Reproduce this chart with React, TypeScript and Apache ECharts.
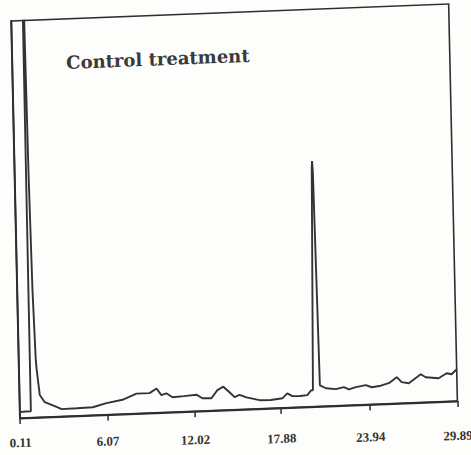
import React, { useEffect, useRef } from "react";
import * as echarts from "echarts";

// Retention times (min) and detector response (% of full scale)
const times = [
  0.11, 0.5, 0.86, 0.88, 0.92, 0.96, 0.99, 1.06, 1.15, 1.27, 1.32, 1.49, 1.82, 2.49, 2.96,
  4.0, 5.07, 6.02, 7.11, 8.07, 8.96, 9.44, 9.76, 10.1, 10.52, 11.3, 12.14, 12.55, 13.16,
  13.58, 13.99, 14.4, 14.74, 15.08, 15.55, 16.43, 17.2, 17.99, 18.33, 18.67, 19.2, 19.69,
  19.96, 20.08, 20.33, 20.36, 20.4, 20.56, 20.97, 21.64, 22.19, 22.53, 23.0, 23.69, 24.09,
  24.7, 25.25, 25.8, 26.13, 26.61, 27.44, 27.77, 28.65, 29.2, 29.54, 29.89,
];
const response = [
  1.5, 1.6, 1.6, 1.7, 140, 140, 100, 60, 32, 14.4, 11.9, 5.6, 3.75, 2.65, 1.84,
  1.9, 2.0, 2.9, 3.6, 5.0, 5.0, 6.1, 4.4, 4.8, 3.75, 3.9, 4.15, 3.2, 3.1,
  5.1, 5.9, 4.45, 3.15, 3.7, 3.0, 2.15, 2.1, 2.4, 3.6, 2.85, 2.8, 2.95,
  4.15, 4.1, 60, 61.8, 59, 5.3, 4.5, 4.17, 4.6, 4.0, 4.5, 4.9, 4.3,
  4.6, 5.15, 6.6, 5.3, 4.95, 7.1, 6.3, 5.9, 7.1, 6.8, 8.0,
];
const tickLabels = ["0.11", "6.07", "12.02", "17.88", "23.94", "29.89"];
const tickValues = tickLabels.map(Number);
const titleText = "Control treatment";

export default function App() {
  const ref = useRef<HTMLDivElement>(null);

  useEffect(() => {
    if (!ref.current) return;
    const chart = echarts.init(ref.current, null, { renderer: "svg" });
    const data = times.map((t, i) => [t, response[i]]);
    const ink = "#2e2e2e";
    const labelFont = {
      fontFamily: "Liberation Serif",
      fontWeight: "bold" as const,
      fontSize: 13,
      color: "#333",
    };
    const rich: Record<string, object> = {};
    tickLabels.forEach((_, i) => {
      rich["l" + i] = { ...labelFont, padding: [i * 2, 0, 0, 0] };
    });
    chart.setOption({
      animation: false,
      backgroundColor: "transparent",
      title: {
        text: titleText,
        left: 70,
        top: 47,
        padding: 0,
        textStyle: {
          fontFamily: "DejaVu Serif",
          fontWeight: "bold",
          fontSize: 18,
          color: "#3a3a3a",
        },
      },
      grid: {
        left: 16,
        right: 16,
        top: 12.5,
        bottom: 45.5,
        show: true,
        borderColor: ink,
        borderWidth: 1.6,
      },
      xAxis: {
        type: "value",
        min: 0.11,
        max: 29.89,
        splitLine: { show: false },
        axisLine: { show: true, lineStyle: { color: ink, width: 2 } },
        axisTick: {
          show: true,
          customValues: tickValues,
          length: 6,
          lineStyle: { color: ink, width: 1.5 },
        },
        axisLabel: {
          customValues: tickValues,
          margin: 18,
          ...labelFont,
          rich,
          formatter: (v: number) => {
            const i = tickValues.indexOf(v);
            return i >= 0 ? "{l" + i + "|" + tickLabels[i] + "}" : v.toFixed(2);
          },
        },
      },
      yAxis: {
        type: "value",
        min: 0,
        max: 100,
        splitLine: { show: false },
        axisLine: { show: true, lineStyle: { color: ink, width: 2 } },
        axisTick: { show: false },
        axisLabel: { show: false },
      },
      series: [
        {
          type: "line",
          data,
          showSymbol: false,
          clip: true,
          lineStyle: { color: "#333", width: 1.9 },
        },
      ],
    });
    return () => chart.dispose();
  }, []);

  return (
    <div style={{ position: "fixed", left: 0, top: 0, width: 471, height: 455, background: "#fdfdfb", overflow: "hidden" }}>
      <div
        ref={ref}
        style={{
          width: 471,
          height: 455,
          transformOrigin: "50% 50%",
          transform: "matrix(1, -0.039, 0.022, 1, 0, 0)",
        }}
      />
    </div>
  );
}
